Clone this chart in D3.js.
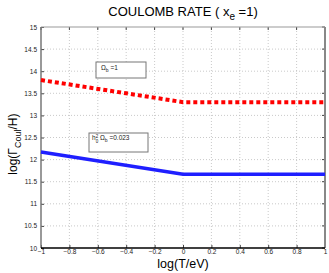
<!DOCTYPE html>
<html>
<head>
<meta charset="utf-8">
<script src="https://cdn.jsdelivr.net/npm/d3@7"></script>
<style>
  body { margin: 0; background: #fff; }
  text { font-family: "Liberation Sans", Arial, sans-serif; }
</style>
</head>
<body>
<svg id="chart" width="329" height="273"></svg>
<script>
// data
const logT = [-1, 0, 1];
const rateOmega1 = [13.8, 13.3, 13.3];
const rateOmegaLow = [12.17, 11.67, 11.67];
const xTicks = [-1, -0.8, -0.6, -0.4, -0.2, 0, 0.2, 0.4, 0.6, 0.8, 1];
const yTicks = [10, 10.5, 11, 11.5, 12, 12.5, 13, 13.5, 14, 14.5, 15];

const width = 329, height = 273;
const margin = { top: 27, right: 4, bottom: 25, left: 41 };

const svg = d3.select('#chart');

const x = d3.scaleLinear([-1, 1], [margin.left, width - margin.right]);
const y = d3.scaleLinear([10, 15], [height - margin.bottom, margin.top]);

const fmt = (d) => String(d).replace('-', '\u2212');

// gridlines
svg.append('g')
  .selectAll('line.vg')
  .data(xTicks.slice(1, -1))
  .join('line')
  .attr('x1', (d) => x(d)).attr('x2', (d) => x(d))
  .attr('y1', y(10)).attr('y2', y(15))
  .attr('stroke', '#bbb').attr('stroke-width', 0.8)
  .attr('stroke-dasharray', '1,2');

svg.append('g')
  .selectAll('line.hg')
  .data(yTicks.slice(1, -1))
  .join('line')
  .attr('x1', x(-1)).attr('x2', x(1))
  .attr('y1', (d) => y(d)).attr('y2', (d) => y(d))
  .attr('stroke', '#bbb').attr('stroke-width', 0.8)
  .attr('stroke-dasharray', '1,2');

// axes (MATLAB style: ticks inside, box around)
const xAxis = svg.append('g')
  .attr('transform', `translate(0,${y(10)})`)
  .call(d3.axisBottom(x).tickValues(xTicks).tickSize(-3).tickPadding(5).tickFormat(fmt));
const yAxis = svg.append('g')
  .attr('transform', `translate(${x(-1)},0)`)
  .call(d3.axisLeft(y).tickValues(yTicks).tickSize(-3).tickPadding(4).tickFormat(fmt));

[xAxis, yAxis].forEach((g) => {
  g.select('.domain').remove();
  g.selectAll('.tick line').attr('stroke', '#444');
  g.selectAll('.tick text').attr('font-size', 6.5).attr('fill', '#222');
});
xAxis.selectAll('.tick text').attr('dy', '0.35em').attr('y', 4);

// right/top ticks
svg.append('g')
  .selectAll('line')
  .data(yTicks)
  .join('line')
  .attr('x1', x(1)).attr('x2', x(1) - 3)
  .attr('y1', (d) => y(d)).attr('y2', (d) => y(d))
  .attr('stroke', '#444');
svg.append('g')
  .selectAll('line')
  .data(xTicks)
  .join('line')
  .attr('x1', (d) => x(d)).attr('x2', (d) => x(d))
  .attr('y1', y(15)).attr('y2', y(15) + 3)
  .attr('stroke', '#444');

// box
svg.append('line').attr('x1', x(-1)).attr('x2', x(1)).attr('y1', y(15)).attr('y2', y(15))
  .attr('stroke', '#999').attr('stroke-width', 1.2);
svg.append('line').attr('x1', x(1)).attr('x2', x(1)).attr('y1', y(15)).attr('y2', y(10))
  .attr('stroke', '#888').attr('stroke-width', 2);
svg.append('line').attr('x1', x(-1)).attr('x2', x(-1)).attr('y1', y(15)).attr('y2', y(10))
  .attr('stroke', '#777').attr('stroke-width', 1.5);
svg.append('line').attr('x1', x(-1)).attr('x2', x(1)).attr('y1', y(10)).attr('y2', y(10))
  .attr('stroke', '#000').attr('stroke-width', 1.5);

// curves
const line = d3.line().x((d) => x(d[0])).y((d) => y(d[1]));

svg.append('path')
  .datum(d3.zip(logT, rateOmega1))
  .attr('d', line)
  .attr('fill', 'none')
  .attr('stroke', '#ff0000')
  .attr('stroke-width', 4)
  .attr('stroke-dasharray', '4,3');

svg.append('path')
  .datum(d3.zip(logT, rateOmegaLow))
  .attr('d', line)
  .attr('fill', 'none')
  .attr('stroke', '#1f1fff')
  .attr('stroke-width', 3.5);

// annotation boxes
svg.append('rect')
  .attr('x', 96).attr('y', 62).attr('width', 50).attr('height', 16)
  .attr('fill', '#fff').attr('stroke', '#777').attr('stroke-width', 1);
const t1 = svg.append('text').attr('x', 101).attr('y', 70).attr('font-size', 6.5).attr('fill', '#222');
t1.append('tspan').text('\u03A9');
t1.append('tspan').attr('font-size', 5).attr('dy', 2).text('b');
t1.append('tspan').attr('dy', -2).text(' =1');

svg.append('rect')
  .attr('x', 89).attr('y', 133).attr('width', 59).attr('height', 19)
  .attr('fill', '#fff').attr('stroke', '#777').attr('stroke-width', 1);
const t2 = svg.append('text').attr('x', 92).attr('y', 140).attr('font-size', 6.5).attr('fill', '#222');
t2.append('tspan').text('h');
t2.append('tspan').attr('font-size', 4.5).attr('dy', -2.5).text('2');
t2.append('tspan').attr('font-size', 4.5).attr('dx', -2.5).attr('dy', 5).text('0');
t2.append('tspan').attr('dy', -2.5).text(' \u03A9');
t2.append('tspan').attr('font-size', 5).attr('dy', 2).text('b');
t2.append('tspan').attr('dy', -2).text(' =0.023');

// title
const title = svg.append('text')
  .attr('x', 183).attr('y', 16)
  .attr('text-anchor', 'middle')
  .attr('font-size', 13).attr('font-weight', 'normal').attr('fill', '#000');
title.append('tspan').text('COULOMB RATE ( x');
title.append('tspan').attr('font-size', 10).attr('dy', 4).text('e');
title.append('tspan').attr('dy', -4).text(' =1)');

// x label
svg.append('text')
  .attr('x', 183).attr('y', 268)
  .attr('text-anchor', 'middle')
  .attr('font-size', 12.5).attr('fill', '#000')
  .text('log(T/eV)');

// y label
const yl = svg.append('text')
  .attr('transform', `translate(17,${y(12.35)}) rotate(-90)`)
  .attr('text-anchor', 'middle')
  .attr('font-size', 12).attr('fill', '#000');
yl.append('tspan').text('log(\u0393');
yl.append('tspan').attr('font-size', 9).attr('dy', 3.5).text('Coul');
yl.append('tspan').attr('dy', -3.5).text('/H)');
</script>
</body>
</html>
